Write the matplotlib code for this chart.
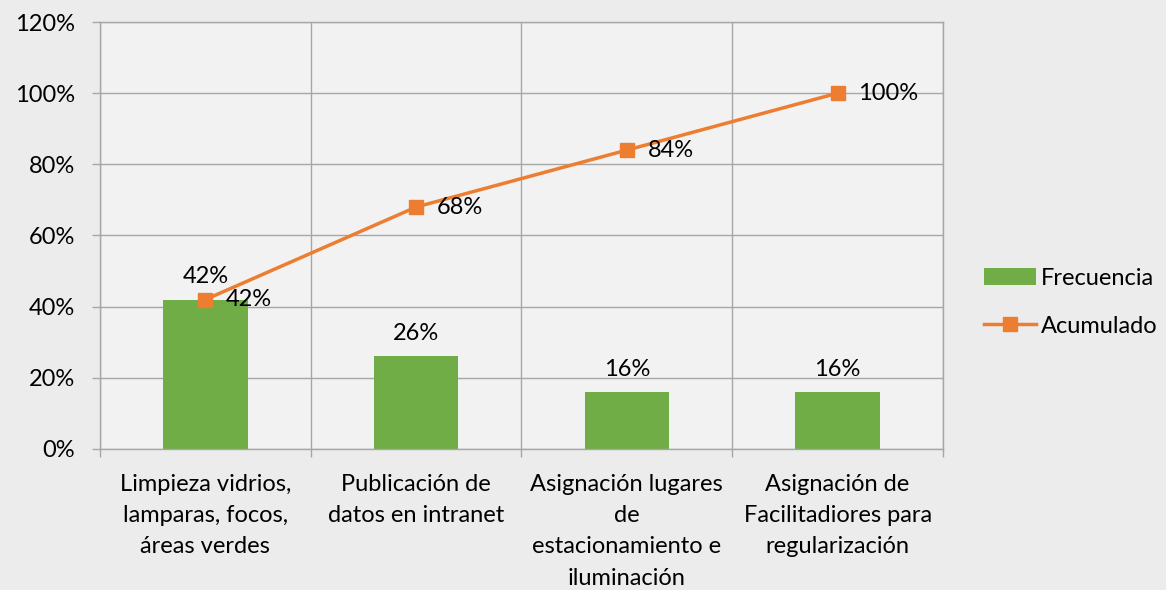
import numpy as np
import matplotlib
matplotlib.use("Agg")
import matplotlib.pyplot as plt
from matplotlib.ticker import FixedLocator, PercentFormatter

# Data
categories = [
    "Limpieza vidrios,\nlamparas, focos,\náreas verdes",
    "Publicación de\ndatos en intranet",
    "Asignación lugares\nde\nestacionamiento e\niluminación",
    "Asignación de\nFacilitadiores para\nregularización",
]
frecuencia = [0.42, 0.26, 0.16, 0.16]
acumulado = [0.42, 0.68, 0.84, 1.00]
y_ticks = [0.0, 0.2, 0.4, 0.6, 0.8, 1.0, 1.2]

plt.rcParams["font.family"] = ["Lato", "DejaVu Sans"]

GREEN = "#70AD47"
ORANGE = "#ED7D31"
GRID = "#a6a6a6"
FS = 17

fig = plt.figure(figsize=(11.66, 5.90), dpi=100, facecolor="#ececec")
ax = fig.add_axes([0.0858, 0.2390, 0.8087 - 0.0858, 0.9627 - 0.2390])
ax.set_facecolor("#f2f2f2")

x = np.arange(len(categories))
bars = ax.bar(x, frecuencia, width=0.4, color=GREEN, label="Frecuencia", zorder=2)
ax.plot(x, acumulado, color=ORANGE, linewidth=2.5, marker="s", markersize=10.5,
        label="Acumulado", zorder=3)

# data labels
for xi, v in zip(x, frecuencia):
    ax.annotate(f"{v:.0%}", (xi, v), xytext=(0, 9), textcoords="offset points",
                ha="center", va="bottom", fontsize=FS)
for xi, v in zip(x, acumulado):
    ax.annotate(f"{v:.0%}", (xi, v), xytext=(15, 0), textcoords="offset points",
                ha="left", va="center", fontsize=FS)

ax.set_xlim(-0.5, len(categories) - 0.5)
ax.set_ylim(0, 1.2)
ax.yaxis.set_major_locator(FixedLocator(y_ticks))
ax.yaxis.set_major_formatter(PercentFormatter(1.0, decimals=0))
ax.set_xticks(x)
ax.set_xticklabels(categories, fontsize=FS, linespacing=1.6)
ax.xaxis.set_minor_locator(FixedLocator(np.arange(-0.5, len(categories), 1.0)))

ax.tick_params(axis="x", which="major", length=0, pad=18)
ax.tick_params(axis="x", which="minor", length=6, color=GRID, width=1)
ax.tick_params(axis="y", length=6, color=GRID, width=1, labelsize=FS, pad=12)

ax.grid(True, axis="y", which="major", color=GRID, linewidth=1, zorder=0)
ax.grid(True, axis="x", which="minor", color=GRID, linewidth=1, zorder=0)
ax.set_axisbelow(True)
for s in ax.spines.values():
    s.set_color(GRID)
    s.set_linewidth(1)

fig.legend(handles=[bars, ax.lines[0]], labels=["Frecuencia", "Acumulado"],
           loc="center left", bbox_to_anchor=(0.826, 0.488), frameon=False,
           fontsize=FS, handlelength=2.2, labelspacing=1.15, handletextpad=0.2)

fig.savefig("out.png", dpi=100, facecolor=fig.get_facecolor())
